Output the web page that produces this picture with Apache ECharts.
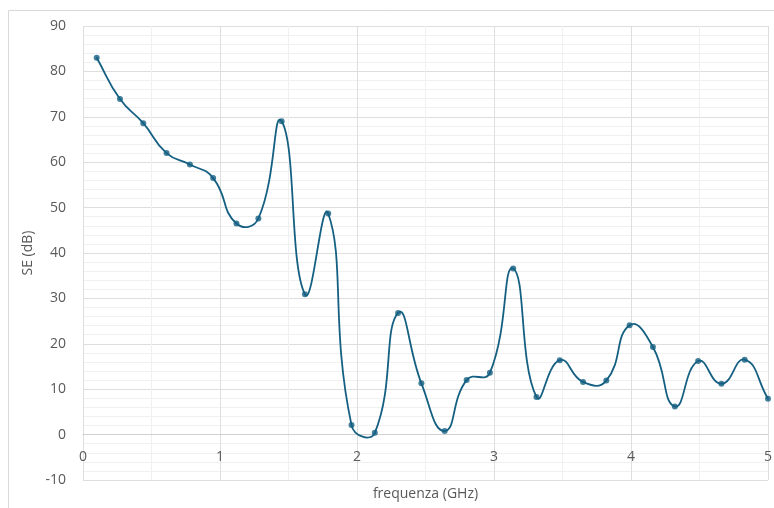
<!DOCTYPE html>
<html>
<head>
<meta charset="utf-8">
<script src="https://cdn.jsdelivr.net/npm/echarts@6/dist/echarts.min.js"></script>
<style>
html,body{margin:0;padding:0;background:#fff;}
#c{width:774px;height:508px;}
</style>
</head>
<body>
<div id="c"></div>
<script>
var freqGHz = [0.10, 0.27, 0.44, 0.61, 0.78, 0.95, 1.12, 1.28, 1.45, 1.62,
               1.79, 1.96, 2.13, 2.30, 2.47, 2.64, 2.80, 2.97, 3.14, 3.31,
               3.48, 3.65, 3.82, 3.99, 4.16, 4.32, 4.49, 4.66, 4.83, 5.00];
var seDB = [83.0, 73.9, 68.6, 62.0, 59.5, 56.5, 46.5, 47.6, 69.0, 30.9,
            48.7, 2.1, 0.4, 26.8, 11.3, 0.8, 12.0, 13.6, 36.6, 8.3,
            16.4, 11.6, 11.9, 24.1, 19.3, 6.2, 16.2, 11.2, 16.5, 7.9];
var xTitle = 'frequenza (GHz)';
var yTitle = 'SE (dB)';

var points = freqGHz.map(function (f, i) { return [f, seDB[i]]; });
var lineColor = '#156082';
var labelColor = '#595959';
var fontFam = '"Open Sans", Lato, sans-serif';
var SMOOTH = 0.5;

var gridTop = 26, gridBottom = 28, yMin = -10, yMax = 90;
var plotH = 508 - gridTop - gridBottom;
var zeroOffset = -plotH * (0 - yMin) / (yMax - yMin);

// Excel-like smoothed segment (unclamped cardinal bezier, length-weighted)
function ctrl(api, i) {
  var n = points.length;
  var p = api.coord(points[i]);
  var prev = api.coord(points[Math.max(i - 1, 0)]);
  var next = api.coord(points[Math.min(i + 1, n - 1)]);
  var vx = next[0] - prev[0], vy = next[1] - prev[1];
  var l0 = Math.hypot(p[0] - prev[0], p[1] - prev[1]);
  var l1 = Math.hypot(next[0] - p[0], next[1] - p[1]);
  var r = (l0 + l1) > 0 ? l1 / (l0 + l1) : 0.5;
  return {
    p: p,
    cin: [p[0] - vx * SMOOTH * (1 - r), p[1] - vy * SMOOTH * (1 - r)],
    cout: [p[0] + vx * SMOOTH * r, p[1] + vy * SMOOTH * r]
  };
}

function renderSegment(params, api) {
  var i = params.dataIndex;
  if (i >= points.length - 1) return null;
  var a = ctrl(api, i), b = ctrl(api, i + 1);
  return {
    type: 'bezierCurve',
    shape: {
      x1: a.p[0], y1: a.p[1], x2: b.p[0], y2: b.p[1],
      cpx1: a.cout[0], cpy1: a.cout[1], cpx2: b.cin[0], cpy2: b.cin[1]
    },
    style: {stroke: lineColor, lineWidth: 1.8, fill: null, lineCap: 'round'}
  };
}

var chart = echarts.init(document.getElementById('c'), null, {renderer: 'canvas'});
chart.setOption({
  animation: false,
  backgroundColor: '#ffffff',
  graphic: [{
    type: 'rect', silent: true, z: -10,
    shape: {x: 8.5, y: 10.5, width: 800, height: 600},
    style: {fill: 'none', stroke: '#d9d9d9', lineWidth: 1}
  }],
  grid: {left: 83, right: 6, top: gridTop, bottom: gridBottom, containLabel: false, outerBoundsMode: 'none'},
  xAxis: {
    type: 'value', min: 0, max: 5, interval: 1,
    offset: zeroOffset,
    name: xTitle, nameLocation: 'middle', nameGap: 52,
    nameTextStyle: {color: labelColor, fontSize: 14, fontFamily: fontFam},
    axisLine: {show: true, onZero: false, lineStyle: {color: '#d0d0d0', width: 1}},
    axisTick: {show: false},
    minorTick: {show: false, splitNumber: 2},
    axisLabel: {color: labelColor, fontSize: 14, margin: 15, fontFamily: fontFam},
    splitLine: {show: true, lineStyle: {color: '#dedede', width: 1}},
    minorSplitLine: {show: true, lineStyle: {color: '#f0f0f0', width: 1}}
  },
  yAxis: {
    type: 'value', min: yMin, max: yMax, interval: 10,
    name: yTitle, nameLocation: 'middle', nameGap: 42, nameRotate: 90,
    nameTextStyle: {color: labelColor, fontSize: 14, fontFamily: fontFam},
    axisLine: {show: false, onZero: false},
    axisTick: {show: false},
    minorTick: {show: false, splitNumber: 5},
    axisLabel: {color: labelColor, fontSize: 14, margin: 17, fontFamily: fontFam},
    splitLine: {show: true, lineStyle: {color: '#dedede', width: 1}},
    minorSplitLine: {show: true, lineStyle: {color: '#f0f0f0', width: 1}}
  },
  series: [{
    type: 'custom',
    coordinateSystem: 'cartesian2d',
    data: points,
    renderItem: renderSegment,
    z: 2,
    silent: true
  }, {
    type: 'scatter',
    data: points,
    symbol: 'circle',
    symbolSize: 6,
    itemStyle: {color: lineColor},
    z: 3
  }]
});
</script>
</body>
</html>
